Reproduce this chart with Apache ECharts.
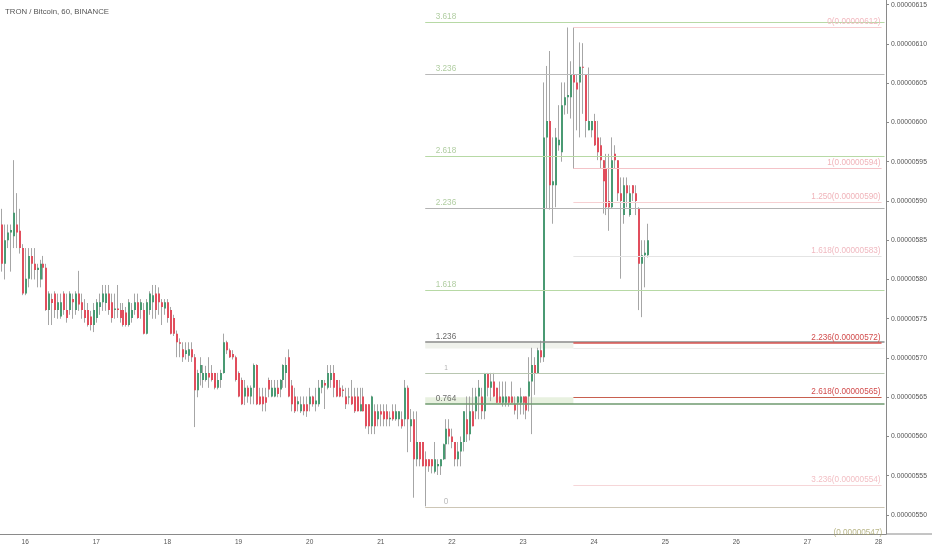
<!DOCTYPE html>
<html>
<head>
<meta charset="utf-8">
<script src="https://cdn.jsdelivr.net/npm/echarts@6/dist/echarts.min.js"></script>
<style>html,body{margin:0;padding:0;background:#fff;}#c{width:932px;height:550px;}</style>
</head>
<body>
<div id="c"></div>
<script>
// Prices in satoshi (1e-8 BTC). Hourly candles, first one = Jan 15 16:00.
// [open, close, low, high]
const candles = [
[587,582,581,589],[582,585,580,587],[585,586,584,587],[586,586.3,581,587],[585.5,588.5,584,595.2],
[587,586,584,591],[586.2,584,583.3,589],[584,578.2,578,584.5],[578.2,580.1,578,584],[580.1,583,579,584],
[583,582,580,584],[582,581.2,580,584],[581.2,581.5,579,582],[580,582,579,582.5],[582,581.5,580,583],
[581.5,576.1,576,582],[576.1,578.2,574.2,578.5],[577.5,577,574.2,578.2],[578.2,576.1,575.1,578.5],[576.1,577.1,575,578.2],
[575.3,577.1,575,578.2],[578.2,576.1,575.5,578.5],[576.1,575.1,574.5,578.2],[576.1,578.2,575.5,578.5],[577.5,577.1,575,578.2],
[576.1,578.2,575.5,578.5],[578.2,576.8,576,581.1],[577.1,576.1,575,578.2],[576.1,575.1,574.5,577.5],[576.1,574.2,574,577],
[575.3,574.2,573.5,576],[574.2,576.1,573.3,577],[575.1,577.1,574.5,577.5],[576.5,577.1,575.5,578.2],[577.1,578.2,576,579.3],
[577,578.2,576,579.3],[578.2,576.1,575.5,579.3],[577.1,575.1,574.5,578.2],[576.1,576.3,575,578.2],[576.3,576.1,575.1,579.3],
[576.1,575.1,574.5,577],[576.1,574.2,574,577],[575.8,574.2,574,576.5],[574.2,577.1,574,577.5],[575.1,576.1,574.5,577],
[576.1,577.1,575.5,578.2],[577.1,575.1,575,578.2],[576.1,577.1,575,577.5],[576.1,573.1,573,577],[573.1,577.1,573,577.5],
[576.1,578.2,575.5,578.5],[577.1,578,575,579.3],[578.2,576.1,575,579.3],[578.2,577.1,575.5,579],[577.1,576.5,574.2,577.5],
[576.3,577.1,575.5,577.5],[577.1,575.1,574.5,577.5],[576.1,573.1,573,576.5],[575.1,573.1,572.8,575.5],[573.1,572,570.1,573.5],
[572,571.8,570.1,572.5],[571.1,570.1,569.5,572],[570.5,571,569.8,572],[570.3,571.1,569.5,572],[571.1,570.1,569.5,572],
[570.1,565.9,561.2,570.5],[565.9,568.1,565,568.5],[568.1,569.1,566.5,570.1],[567.2,568.1,566.2,569.1],[567.2,568.1,567,569],
[568.1,567.5,566.2,570.1],[568.1,567.2,567,569.1],[568.1,566.2,566,568.1],[566.2,567.2,566,568.1],[567.2,568.1,566.2,568.5],
[568.1,572,568,573.1],[572,571,570.5,572.2],[571,570.1,570,571.2],[570.5,570.1,569.8,571],[570.1,567.2,567,570.3],
[568.1,565.1,565,568.3],[567.2,564.1,564,567.5],[565.1,566.2,564,567.2],[566.2,565.1,564.3,566.5],[565.1,566.2,564.1,566.5],
[566.2,569.1,564.1,569.3],[569.1,564.1,564,569.2],[565.1,564.1,564,566.2],[565.1,564.1,563.2,566.2],[565,564.3,563.2,566.2],
[567.2,566,565,567.5],[565.1,566.2,565,567.2],[565.1,566.2,565,567.2],[566.2,565.4,565,567.2],[566,567.2,565,567.3],
[567.2,569.1,566.2,569.2],[568.1,569.1,566.2,570.1],[570.1,565.1,565,571.1],[566.5,564.1,563.2,567.2],[565.1,563.2,563,566.2],
[564.1,564.5,563.2,565.1],[563.2,564.1,563,565.1],[564.1,563.2,562.7,565.1],[564.1,563.2,562.5,565.1],[564.1,565.1,563.2,566.2],
[565.1,564.1,563.8,565.2],[564.1,564.6,563.2,566.2],[564.1,566.2,563.8,567.2],[566.2,567.2,565.5,567.2],[566.8,566.5,563.5,567.2],
[566.2,568.1,566,569.1],[567.2,568.1,566.2,569.1],[568.1,566.2,565,569.1],[567.2,565.1,565,567.2],[566.2,565.1,565,567.2],
[566,565.8,565,566.5],[565.1,564.1,563.5,566.2],[565.1,565.1,564.1,566.2],[565.1,564.1,564,567.2],[565.1,563.2,563,566.2],
[565.1,563.2,563.2,566.2],[563.2,564.1,563.2,566.2],[565.1,563.2,563.2,566.2],[564.1,561.3,561,564.1],[564.1,561.3,560.3,564.1],
[561.3,565.1,560.3,565.2],[563.2,561.3,560.3,564.1],[562.2,563.2,561.3,564.1],[563.2,562.8,561.3,564.1],[563.2,562.2,561.3,564.1],
[563.2,562.2,561.3,564.1],[562.2,562.4,561.3,563.2],[563.2,562.2,562,564.1],[562.2,563.2,562,564.1],[562.2,563.2,561.3,563.2],
[562.2,561.3,561,563.2],[562.2,566.2,561.3,567.2],[566.2,562.2,558,566.5],[561.3,562.2,559.3,563.5],[562.2,557.1,552.2,563.2],
[557.1,559.3,556.2,563.2],[559.3,557.1,556.2,559.3],[559.3,556.2,556.2,559.3],[557.1,556.2,551.1,558.1],[557.1,556.2,555.5,557.1],
[557.1,556.2,555.3,557.1],[555.5,557.1,555.3,559.3],[556.2,556.5,555.1,557.1],[556.2,557.1,555.1,557.1],[557.1,559,557,559.1],
[559,561,557.1,562.2],[561,560,559,562.2],[560,559.3,558.5,561],[559.3,557.1,556.2,559.3],[557.1,558.1,556.2,559.3],
[558.1,559.3,556.2,560],[559.3,563.2,558.1,563.2],[562.2,560.3,559.3,565.1],[560.3,563.2,559.5,565.1],[563.2,561.3,561.3,566.2],
[563.2,565.1,562.2,566.2],[565.1,566.2,562.2,567.2],[565.1,563.2,562.2,566.2],[563.2,568.1,562.2,568.1],[568.1,566.2,565.1,568.1],
[566.2,567,564.5,568.1],[567,565.1,565,568.1],[566.2,564.3,564.3,566.2],[565.1,564.3,564.3,567],[564.3,565.1,563.8,567],
[564.3,565.1,563.8,567],[565.1,564.3,563.8,565.1],[565.1,564.3,564.3,567],[564.1,563.3,562.8,565.1],[564.3,565.1,562.2,565.1],
[564.3,565.1,562.8,566.2],[565.1,564.3,562.8,565.1],[565.1,563.3,562.2,565.1],[565.1,567,563.2,570.1],[567,569.1,560.3,571.3],
[569.1,568.1,565.3,570.1],[568.1,571,568.1,571.3],[571,570.1,569.4,572.2],[570.1,598.1,569.5,605.1],[598.1,600.2,589,607.2],
[600.2,592,588.9,609.1],[592,592.5,587.1,598.1],[592,598.1,589.2,599.3],[597.1,597.8,596.4,602.2],[596.2,602.2,595,605.1],
[602.2,603.2,601,605.1],[603.2,603.5,601.1,612.1],[603.2,606.1,600.5,607.8],[606.1,605.1,594.1,612.1],[605.1,604.2,599,606.1],
[605.1,607.1,598.1,610.2],[607.1,607,601.1,610.1],[606.1,600.2,598.1,606.1],[599,600.2,599,607],[599,600.2,598.1,600.2],
[600.2,597.1,597,601.1],[598.1,596.2,595.2,600.2],[597.1,595.2,594.1,598.1],[595.2,592.5,588.4,595.2],[594.1,589.2,588.2,596],
[590,589.2,586.2,596],[589.2,595.2,589,598.1],[596,595.2,594.1,597.1],[595.2,591,590,595.2],[591,590,580.1,593],
[588.2,592,587.1,593],[592,591,589.2,593],[588.2,591,588,592],[592,591,590,592],[591,590,588.2,592],
[589,582,576.1,589.2],[582,583.1,575.2,585],[583.1,583.4,579,585],[583.1,585,582.8,587.1]
];
const dayLabels = ['16','17','18','19','20','21','22','23','24','25','26','27','28'];
const yTicks = [550,555,560,565,570,575,580,585,590,595,600,605,610,615];

// Fibonacci extension from the low (left) — levels
const leftNames  = ['3.618','3.236','2.618','2.236','1.618','1.236','1','0.764','0'];
const leftValues = [612.8, 606.2, 595.7, 589.1, 578.66, 572.04, 568.09, 564.14, 551.02];
// Fibonacci extension from the peak (right)
const rightNames  = ['0(0.00000612)','1(0.00000594)','1.250(0.00000590)','1.618(0.00000583)','2.236(0.00000572)','2.618(0.00000565)','3.236(0.00000554)'];
const rightValues = [612.16, 594.2, 589.9, 583.0, 571.9, 565.0, 553.8];

const N = 299, START_H = 16;
const categories = [];
for (let i = 0; i < N; i++) {
  const h = START_H + i;
  categories.push((15 + Math.floor(h / 24)) + ' ' + String(h % 24).padStart(2, '0') + ':00');
}
const isDay = (idx) => idx >= 8 && (idx - 8) % 24 === 0;

const leftStart = 143, rightStart = 193, endIdx = 298, rightEnd = 297;
const leftLine = ['#b7d9a5','#b9b9b9','#b7d9a5','#b3b3b3','#b7d9a5','#8c8c8c','#b8c6b0','#6f9a6f','#cdc6b6'];
const leftWidth = [1,1,1,1,1,1.5,1,1.5,1];
const leftLabel = ['#9cc08a','#9cc08a','#9cc08a','#9cc08a','#9cc08a','#444444','#9a9a9a','#4a4a4a','#aaaaaa'];
const rightLine = ['#f6cdd0','#f4c3c8','#f6d0d2','#e4e4e4','#d9534f','#c8604f','#f6d6d8'];
const rightWidth = [1,1,1,1,1.5,1,1];
const rightLabel = ['#f2b9bf','#f0b4ba','#f0b4ba','#f0b9c0','#d24d4d','#d24d4d','#f2bfc4'];

const markLines = [];
leftValues.forEach((v, k) => {
  markLines.push([{coord:[leftStart, v], lineStyle:{color:leftLine[k], width:leftWidth[k], type:'solid'}}, {coord:[endIdx, v]}]);
});
rightValues.forEach((v, k) => {
  markLines.push([{coord:[rightStart, v], lineStyle:{color:rightLine[k], width:rightWidth[k], type:'solid'},
    label:{show:true, position:'insideEndTop', distance:1, formatter:rightNames[k], color:rightLabel[k], fontSize:8.2, fontFamily:'Liberation Sans'}},
    {coord:[rightEnd, v]}]);
});
markLines.push([{coord:[rightStart, 571.2], lineStyle:{color:'#ececec', width:1, type:'solid'}}, {coord:[endIdx, 571.2]}]);

const candleData = candles.map((c, i) => [i, c[0], c[1], c[2], c[3]]);
const UP = '#4a9a73', DOWN = '#e14e5d', WICK = '#a6a6a6';

function renderCandle(params, api) {
  const i = api.value(0);
  const o = api.value(1), c = api.value(2), l = api.value(3), h = api.value(4);
  const pH = api.coord([i, h]), pL = api.coord([i, l]);
  const pO = api.coord([i, o]), pC = api.coord([i, c]);
  const px = Math.floor(pH[0]);
  const top = Math.min(pO[1], pC[1]);
  const bh = Math.max(1, Math.abs(pO[1] - pC[1]));
  return {
    type:'group',
    children:[
      {type:'line', shape:{x1:px + 0.5, y1:pH[1], x2:px + 0.5, y2:pL[1]}, style:{stroke:WICK, lineWidth:1}},
      {type:'rect', shape:{x:px, y:top, width:2, height:bh}, style:{fill: c >= o ? UP : DOWN}}
    ]
  };
}

const leftLabelData = leftValues.map((v, k) => ({
  value:[150, v],
  label:{formatter:leftNames[k], color:leftLabel[k], fontSize: leftNames[k] === '1' ? 6.5 : 8.2}
}));

const font = 'Liberation Sans';
const chart = echarts.init(document.getElementById('c'), null, {renderer:'canvas'});
chart.setOption({
  animation:false,
  backgroundColor:'#ffffff',
  title:{text:'TRON / Bitcoin, 60, BINANCE', left:0, top:3, textStyle:{fontSize:7.8, fontWeight:'normal', color:'#555', fontFamily:font}},
  grid:{left:0, right:46, top:0, bottom:16},
  xAxis:{
    type:'category', data:categories, boundaryGap:true,
    axisLine:{lineStyle:{color:'#8a8a8a'}},
    axisTick:{interval:(i)=>isDay(i), alignWithLabel:true, length:2, lineStyle:{color:'#8a8a8a'}},
    axisLabel:{interval:(i)=>isDay(i), formatter:(val, i)=>dayLabels[(i-8)/24], fontSize:6.5, color:'#555', margin:5, fontFamily:font},
    splitLine:{show:false}
  },
  yAxis:{
    type:'value', position:'right', min:547.58, max:615.6, scale:true,
    axisLine:{show:true, lineStyle:{color:'#8a8a8a'}},
    axisTick:{show:true, length:3, customValues:yTicks, lineStyle:{color:'#8a8a8a'}},
    axisLabel:{customValues:yTicks, formatter:(v)=>(v/1e8).toFixed(8), fontSize:6.8, color:'#555', margin:5, fontFamily:font},
    splitLine:{show:false}
  },
  series:[
    {type:'line', data:[], z:1, silent:true,
     markLine:{silent:true, symbol:['none','none'], animation:false, data:markLines, label:{show:false}},
     markArea:{silent:true, data:[
       [{coord:[leftStart, 572.1], itemStyle:{color:'#f0f2ec'}}, {coord:[rightStart, 571.2]}],
       [{coord:[leftStart, 565.0], itemStyle:{color:'#e8f1e0'}}, {coord:[rightStart, 564.14]}]
     ]}},
    {type:'custom', data:candleData, z:3, silent:true, renderItem:renderCandle,
     encode:{x:0, y:[1,2,3,4]}},
    {type:'scatter', data:leftLabelData, symbolSize:0, z:5, silent:true,
     label:{show:true, position:'top', distance:1, fontFamily:font}},
    {type:'scatter', data:[{value:[289, 547.75]}], symbolSize:0, z:5, silent:true,
     label:{show:true, position:'inside', formatter:'(0.00000547)', color:'#a8a46a', fontSize:8.2, fontFamily:font}}
  ],
  graphic:[{type:'line', shape:{x1:886, y1:534, x2:932, y2:534}, style:{stroke:'#8a8a8a', lineWidth:1}}]
});
</script>
</body>
</html>
